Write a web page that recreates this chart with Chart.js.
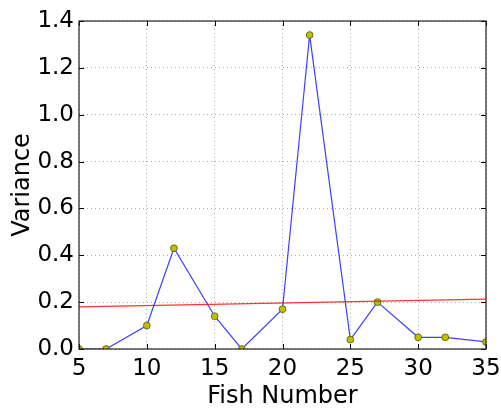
<!DOCTYPE html>
<html>
<head>
<meta charset="utf-8">
<script src="https://cdn.jsdelivr.net/npm/chart.js@4/dist/chart.umd.min.js"></script>
<style>
  html, body { margin: 0; padding: 0; background: #fff; }
  #wrap { width: 501px; height: 408px; }
</style>
</head>
<body>
<div id="wrap"><canvas id="chart" width="501" height="408"></canvas></div>
<script>
var fishNumbers = [5, 7, 10, 12, 15, 17, 20, 22, 25, 27, 30, 32, 35];
var variances = [0.0, 0.0, 0.10, 0.43, 0.14, 0.0, 0.17, 1.34, 0.04, 0.20, 0.05, 0.05, 0.03];
var fitX = [5, 35];
var fitY = [0.18, 0.213];
var xTicks = [5, 10, 15, 20, 25, 30, 35];
var yTicks = [0.0, 0.2, 0.4, 0.6, 0.8, 1.0, 1.2, 1.4];

function toPoints(xs, ys) {
  return xs.map(function (x, i) { return { x: x, y: ys[i] }; });
}

// matplotlib-style frame with inward ticks on all four sides
var frameTicks = {
  id: 'frameTicks',
  afterDatasetsDraw: function (chart) {
    var ctx = chart.ctx;
    var a = chart.chartArea;
    var xs = chart.scales.x, ys = chart.scales.y;
    ctx.save();
    ctx.strokeStyle = '#000';
    ctx.lineWidth = 1;
    ctx.beginPath();
    xTicks.forEach(function (v) {
      var px = Math.round(xs.getPixelForValue(v)) + 0.5;
      ctx.moveTo(px, a.bottom); ctx.lineTo(px, a.bottom - 5);
      ctx.moveTo(px, a.top); ctx.lineTo(px, a.top + 5);
    });
    yTicks.forEach(function (v) {
      var py = Math.round(ys.getPixelForValue(v)) + 0.5;
      ctx.moveTo(a.left, py); ctx.lineTo(a.left + 5, py);
      ctx.moveTo(a.right, py); ctx.lineTo(a.right - 5, py);
    });
    ctx.stroke();
    ctx.strokeStyle = '#222';
    ctx.lineWidth = 1.2;
    ctx.strokeRect(a.left, a.top, a.right - a.left, a.bottom - a.top);
    ctx.restore();
  }
};

var ctx = document.getElementById('chart').getContext('2d');
var myChart = new Chart(ctx, {
  type: 'scatter',
  data: {
    datasets: [{
      data: toPoints(fitX, fitY),
      showLine: true,
      borderColor: 'rgba(255,0,0,0.8)',
      borderWidth: 1.3,
      pointRadius: 0,
      order: 0,
      clip: 0
    }, {
      data: toPoints(fishNumbers, variances),
      showLine: true,
      borderColor: 'rgba(0,0,255,0.75)',
      borderWidth: 1.2,
      backgroundColor: '#bfbf00',
      pointBackgroundColor: '#bfbf00',
      pointBorderColor: '#555500',
      pointBorderWidth: 0.8,
      pointRadius: 3.4,
      order: 1,
      clip: 0
    }]
  },
  options: {
    responsive: false,
    animation: false,
    layout: { padding: { top: 21, right: 15, left: 0, bottom: 0 } },
    plugins: {
      legend: { display: false },
      tooltip: { enabled: false }
    },
    scales: {
      x: {
        type: 'linear',
        min: 5,
        max: 35,
        afterBuildTicks: function (scale) {
          scale.ticks = xTicks.map(function (v) { return { value: v }; });
        },
        afterFit: function (scale) {
          scale.height = 59;
          scale.paddingRight = 0;
          scale.paddingLeft = 0;
        },
        grid: {
          color: '#aaa',
          drawTicks: false
        },
        border: { display: false, dash: [1, 3] },
        ticks: {
          color: '#000',
          padding: 6,
          maxRotation: 0,
          font: { family: 'DejaVu Sans', size: 23 },
          callback: function (v) { return String(v); }
        },
        title: {
          display: true,
          text: 'Fish Number',
          color: '#000',
          padding: { top: 4, bottom: -3 },
          font: { family: 'DejaVu Sans', size: 24 }
        }
      },
      y: {
        min: 0,
        max: 1.4,
        afterBuildTicks: function (scale) {
          scale.ticks = yTicks.map(function (v) { return { value: v }; });
        },
        afterFit: function (scale) { scale.width = 79; },
        grid: {
          color: '#aaa',
          drawTicks: false
        },
        border: { display: false, dash: [1, 3] },
        ticks: {
          color: '#000',
          padding: 5,
          font: { family: 'DejaVu Sans', size: 23 },
          callback: function (v) { return Number(v).toFixed(1); }
        },
        title: {
          display: true,
          text: 'Variance',
          color: '#000',
          padding: { top: 8, bottom: 0 },
          font: { family: 'DejaVu Sans', size: 24 }
        }
      }
    }
  },
  plugins: [frameTicks]
});
</script>
</body>
</html>
